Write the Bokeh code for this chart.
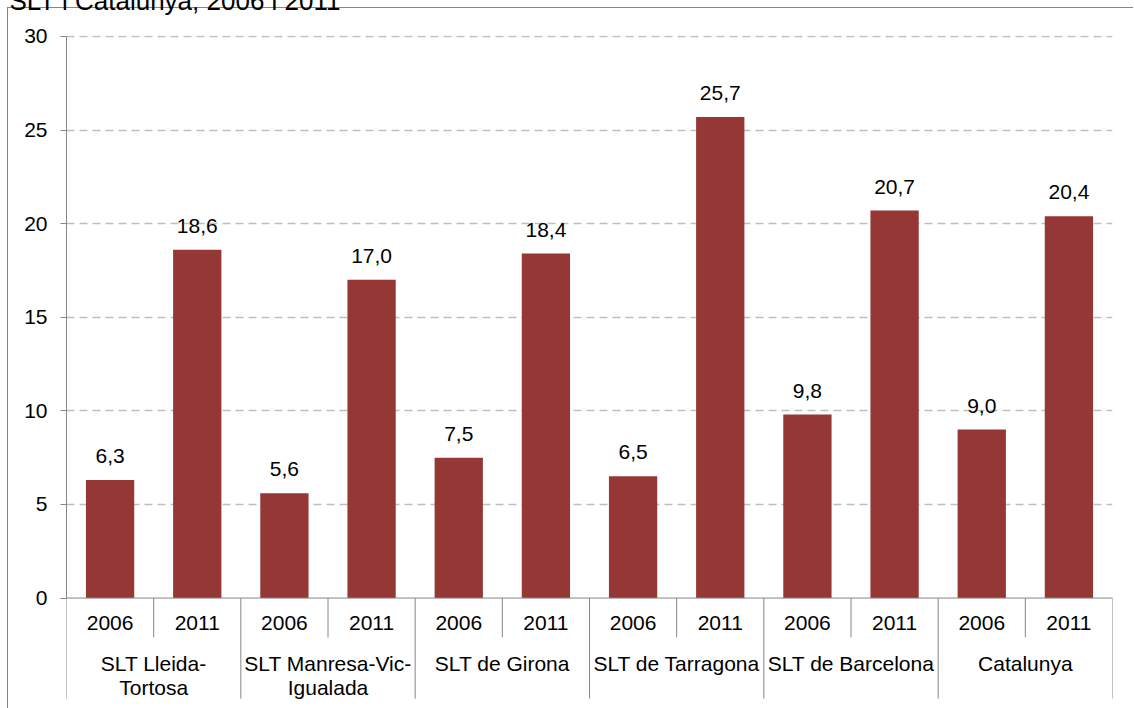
from bokeh.plotting import figure
from bokeh.models import Range1d, FixedTicker, ColumnDataSource, Span, Title
from bokeh.core.properties import value
from bokeh.embed import file_html
from bokeh.resources import INLINE

# ---------------- data ----------------
title_text = "SLT i Catalunya, 2006 i 2011"
groups = ["SLT Lleida-\nTortosa", "SLT Manresa-Vic-\nIgualada", "SLT de Girona",
          "SLT de Tarragona", "SLT de Barcelona", "Catalunya"]
years = ["2006", "2011"]
values_2006 = [6.3, 5.6, 7.5, 6.5, 9.8, 9.0]
values_2011 = [18.6, 17.0, 18.4, 25.7, 20.7, 20.4]
y_ticks = [0, 5, 10, 15, 20, 25, 30]

# ---------------- styles ----------------
FONT = "Liberation Sans"
FS = "21px"
BAR = "#953735"
AXIS = "#868686"
GRID = "#BFBFBF"
TOP_SHIFT = 38
TXT_OFF = -8

n_slots = len(groups) * len(years)
xs, tops, labels, year_lab = [], [], [], []
for gi in range(len(groups)):
    for yi, vals in enumerate([values_2006, values_2011]):
        xs.append(gi * len(years) + yi + 0.5)
        tops.append(vals[gi])
        labels.append(f"{vals[gi]:.1f}".replace(".", ","))
        year_lab.append(years[yi])

src = ColumnDataSource(dict(x=xs, top=tops, label=labels, year=year_lab))

y_bottom = -5.90
sep_bottom = -5.37
border_css = {
    "background-image": "linear-gradient(#868686, #868686), linear-gradient(#868686, #868686)",
    "background-size": "100% 1px, 1px 100%",
    "background-position": f"0 {7 + TOP_SHIFT}px, 0 {7 + TOP_SHIFT}px",
    "background-repeat": "no-repeat",
}
p = figure(width=1126, height=708 + TOP_SHIFT,
           x_range=Range1d(0, n_slots), y_range=Range1d(y_bottom, 30.05),
           output_backend="svg", toolbar_location=None, x_axis_location=None,
           min_border_left=59, min_border_right=21, min_border_top=35 + TOP_SHIFT,
           min_border_bottom=0, margin=(-TOP_SHIFT, 0, 0, 7), styles=border_css)
p.outline_line_color = None
p.background_fill_color = "white"
p.border_fill_color = None

p.title = Title(text=title_text, text_font=FONT, text_font_size="26px",
                text_font_style="normal", text_color="black",
                align="left", offset=-57, standoff=39)

ax = p.yaxis[0]
ax.ticker = FixedTicker(ticks=y_ticks)
ax.bounds = (0, 30)
ax.major_label_text_font = FONT
ax.major_label_text_font_size = FS
ax.major_label_text_color = "black"
ax.axis_line_color = AXIS
ax.major_tick_line_color = AXIS
ax.major_tick_in = 0
ax.major_tick_out = 6
ax.minor_tick_line_color = None
ax.major_label_standoff = 13

p.xgrid.visible = False
p.ygrid.ticker = FixedTicker(ticks=y_ticks[1:])
p.ygrid.grid_line_color = GRID
p.ygrid.grid_line_dash = "8 5"
p.ygrid.grid_line_width = 1.5

p.vbar(x="x", top="top", width=0.554, source=src, fill_color=BAR, line_color=None)
p.add_layout(Span(location=0, dimension="width", line_color=AXIS, line_width=1))

p.text(x="x", y="top", text="label", source=src, text_align="center",
       text_baseline="alphabetic", y_offset=-16 + TXT_OFF,
       text_font=value(FONT), text_font_size=FS, text_color="black")

# category axis (manual, Excel style)
p.text(x="x", y=-1.736, text="year", source=src, text_align="center", y_offset=TXT_OFF,
       text_baseline="alphabetic", text_font=value(FONT), text_font_size=FS, text_color="black")

gx = [gi * len(years) + len(years) / 2 for gi in range(len(groups))]
line1 = [g.split("\n")[0] for g in groups]
line2 = [g.split("\n")[1] if "\n" in g else "" for g in groups]
gsrc = ColumnDataSource(dict(x=gx, l1=line1, l2=line2))
p.text(x="x", y=-3.90, text="l1", source=gsrc, text_align="center", y_offset=TXT_OFF,
       text_baseline="alphabetic", text_font=value(FONT), text_font_size=FS, text_color="black")
p.text(x="x", y=-5.23, text="l2", source=gsrc, text_align="center", y_offset=TXT_OFF,
       text_baseline="alphabetic", text_font=value(FONT), text_font_size=FS, text_color="black")

yr_sep = [gi * len(years) + 1 for gi in range(len(groups))]
p.segment(x0=yr_sep, y0=[0] * len(yr_sep), x1=yr_sep, y1=[-2.1] * len(yr_sep),
          line_color=AXIS, line_width=1)
grp_sep = [gi * len(years) for gi in range(len(groups) + 1)]
p.segment(x0=grp_sep, y0=[0] * len(grp_sep), x1=grp_sep, y1=[sep_bottom] * len(grp_sep),
          line_color=AXIS, line_width=1)

open("out.html", "w").write(file_html(p, INLINE))
